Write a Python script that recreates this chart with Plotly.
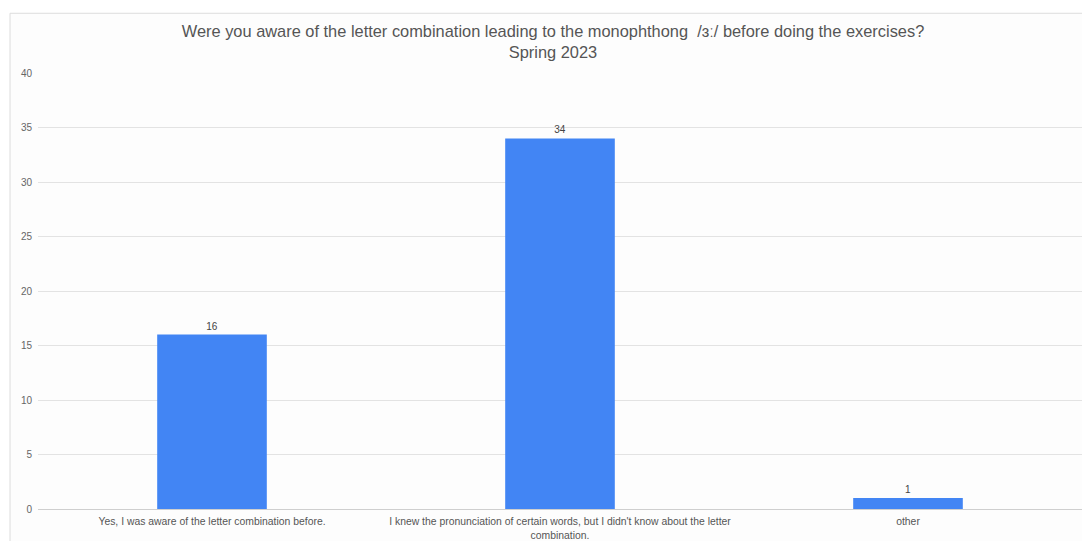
import plotly.graph_objects as go

categories = [
    "Yes, I was aware of the letter combination before.",
    "I knew the pronunciation of certain words, but I didn't know about the letter<br>combination.",
    "other",
]
values = [16, 34, 1]
y_ticks = [0, 5, 10, 15, 20, 25, 30, 35, 40]

W, H = 1082, 541
ML, MR, MT, MB = 38, 0, 73, 30
pw = W - ML - MR
ph = H - MT - MB

def px_x(p):  # page pixel -> paper x
    return (p - ML) / pw

def px_y(p):  # page pixel -> paper y
    return (H - MB - p) / ph

font_family = "Liberation Sans, Arial, sans-serif"

fig = go.Figure()
fig.add_trace(go.Bar(
    x=categories,
    y=values,
    marker=dict(color="#4285F4", line=dict(width=0)),
    text=[str(v) for v in values],
    textposition="outside",
    textfont=dict(size=10, color="#444444", family=font_family),
    cliponaxis=False,
    hoverinfo="skip",
))

fig.add_shape(
    type="rect", xref="paper", yref="paper", layer="below",
    x0=px_x(10), x1=px_x(W + 20), y0=px_y(H + 20), y1=px_y(13),
    line=dict(color="#dcdcdc", width=1), fillcolor="#fdfdfd",
)

fig.update_layout(
    width=W, height=H, autosize=False,
    margin=dict(l=ML, r=MR, t=MT, b=MB, pad=0),
    paper_bgcolor="white",
    plot_bgcolor="rgba(0,0,0,0)",
    bargap=0.685,
    showlegend=False,
    title=dict(
        text="Were you aware of the letter combination leading to the monophthong  /ɜː/ before doing the exercises?<br>Spring 2023",
        x=px_x(553), xref="paper", xanchor="center",
        y=1 - 37 / H, yref="container", yanchor="top",
        font=dict(size=16.4, color="#555555", family=font_family),
    ),
    xaxis=dict(
        showgrid=False, showline=False, zeroline=False, ticks="",
        tickfont=dict(size=10.4, color="#555555", family=font_family),
        ticklabelstandoff=5,
        fixedrange=True,
    ),
    yaxis=dict(
        range=[0, 40], tickvals=y_ticks, ticktext=[str(t) for t in y_ticks],
        showgrid=True, gridcolor="#e3e3e3", gridwidth=1,
        zeroline=True, zerolinecolor="#cfcfcf", zerolinewidth=1,
        showline=False, ticks="",
        tickfont=dict(size=10, color="#666666", family=font_family),
        ticklabelstandoff=5,
        fixedrange=True,
    ),
)

fig.write_html(
    "out.html",
    config={"displayModeBar": False},
    post_script="document.body.style.margin='0';document.body.style.overflow='hidden';",
)
